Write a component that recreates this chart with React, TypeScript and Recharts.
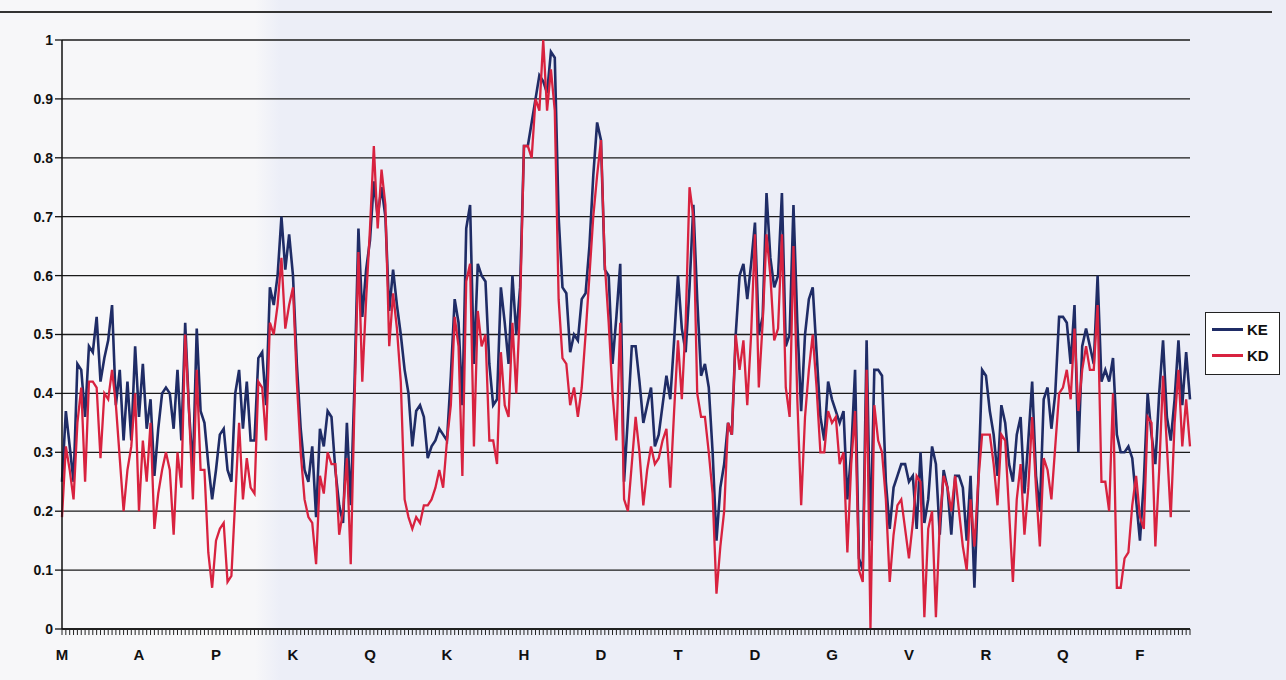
import { CartesianGrid, Line, LineChart, XAxis, YAxis } from "recharts";

// residue labels shown under every 20th position
const residueLabels = ["M", "A", "P", "K", "Q", "K", "H", "D", "T", "D", "G", "V", "R", "Q", "F"];
const labelStep = 20;

const keValues = [
  0.25, 0.37, 0.31, 0.25, 0.45, 0.44, 0.36, 0.48, 0.47, 0.53,
  0.42, 0.46, 0.49, 0.55, 0.38, 0.44, 0.32, 0.42, 0.32, 0.48,
  0.36, 0.45, 0.34, 0.39, 0.26, 0.34, 0.40, 0.41, 0.40, 0.34,
  0.44, 0.32, 0.52, 0.37, 0.27, 0.51, 0.37, 0.35, 0.28, 0.22,
  0.27, 0.33, 0.34, 0.27, 0.25, 0.40, 0.44, 0.34, 0.42, 0.32,
  0.32, 0.46, 0.47, 0.38, 0.58, 0.55, 0.60, 0.70, 0.61, 0.67,
  0.60, 0.45, 0.34, 0.27, 0.25, 0.31, 0.19, 0.34, 0.31, 0.37,
  0.36, 0.27, 0.21, 0.18, 0.35, 0.21, 0.42, 0.68, 0.53, 0.61,
  0.66, 0.76, 0.70, 0.75, 0.70, 0.54, 0.61, 0.55, 0.50, 0.44,
  0.40, 0.31, 0.37, 0.38, 0.36, 0.29, 0.31, 0.32, 0.34, 0.33,
  0.32, 0.43, 0.56, 0.52, 0.38, 0.68, 0.72, 0.45, 0.62, 0.60,
  0.59, 0.45, 0.38, 0.39, 0.58, 0.52, 0.45, 0.60, 0.50, 0.58,
  0.82, 0.82, 0.86, 0.90, 0.94, 0.93, 0.91, 0.98, 0.97, 0.70,
  0.58, 0.57, 0.47, 0.50, 0.49, 0.56, 0.57, 0.65, 0.77, 0.86,
  0.83, 0.61, 0.60, 0.45, 0.53, 0.62, 0.25, 0.36, 0.48, 0.48,
  0.42, 0.35, 0.38, 0.41, 0.31, 0.33, 0.38, 0.43, 0.39, 0.49,
  0.60, 0.51, 0.47, 0.58, 0.72, 0.56, 0.43, 0.45, 0.41, 0.30,
  0.15, 0.24, 0.28, 0.35, 0.33, 0.50, 0.60, 0.62, 0.56, 0.62,
  0.69, 0.50, 0.53, 0.74, 0.63, 0.58, 0.60, 0.74, 0.48, 0.50,
  0.72, 0.52, 0.37, 0.50, 0.56, 0.58, 0.47, 0.36, 0.32, 0.42,
  0.39, 0.37, 0.35, 0.37, 0.22, 0.30, 0.44, 0.12, 0.10, 0.49,
  0.15, 0.44, 0.44, 0.43, 0.25, 0.17, 0.24, 0.26, 0.28, 0.28,
  0.25, 0.26, 0.17, 0.30, 0.18, 0.22, 0.31, 0.28, 0.16, 0.27,
  0.24, 0.16, 0.26, 0.26, 0.24, 0.15, 0.26, 0.07, 0.25, 0.44,
  0.43, 0.37, 0.33, 0.26, 0.38, 0.35, 0.28, 0.25, 0.33, 0.36,
  0.23, 0.32, 0.42, 0.26, 0.20, 0.39, 0.41, 0.34, 0.40, 0.53,
  0.53, 0.52, 0.45, 0.55, 0.30, 0.48, 0.51, 0.48, 0.45, 0.60,
  0.42, 0.44, 0.42, 0.46, 0.33, 0.30, 0.30, 0.31, 0.29, 0.22,
  0.15, 0.25, 0.40, 0.33, 0.28, 0.40, 0.49, 0.36, 0.32, 0.39,
  0.49, 0.38, 0.47, 0.39,
];

const kdValues = [
  0.19, 0.31, 0.27, 0.22, 0.35, 0.41, 0.25, 0.42, 0.42, 0.41,
  0.29, 0.40, 0.39, 0.44, 0.38, 0.29, 0.20, 0.27, 0.31, 0.40,
  0.20, 0.32, 0.25, 0.35, 0.17, 0.23, 0.27, 0.30, 0.27, 0.16,
  0.30, 0.24, 0.50, 0.37, 0.22, 0.44, 0.27, 0.27, 0.13, 0.07,
  0.15, 0.17, 0.18, 0.08, 0.09, 0.22, 0.35, 0.22, 0.29, 0.24,
  0.23, 0.42, 0.41, 0.32, 0.52, 0.50, 0.55, 0.63, 0.51, 0.55,
  0.58, 0.42, 0.30, 0.22, 0.19, 0.18, 0.11, 0.26, 0.23, 0.30,
  0.28, 0.28, 0.16, 0.20, 0.29, 0.11, 0.39, 0.64, 0.42, 0.56,
  0.68, 0.82, 0.68, 0.78, 0.72, 0.48, 0.57, 0.51, 0.42, 0.22,
  0.19, 0.17, 0.19, 0.18, 0.21, 0.21, 0.22, 0.24, 0.27, 0.24,
  0.32, 0.38, 0.53, 0.48, 0.26, 0.59, 0.62, 0.31, 0.54, 0.48,
  0.50, 0.32, 0.32, 0.28, 0.47, 0.38, 0.36, 0.52, 0.40, 0.55,
  0.82, 0.82, 0.80, 0.90, 0.88, 1.00, 0.88, 0.95, 0.88, 0.56,
  0.46, 0.45, 0.38, 0.41, 0.36, 0.41, 0.50, 0.60, 0.70, 0.77,
  0.83, 0.62, 0.52, 0.40, 0.32, 0.52, 0.22, 0.20, 0.28, 0.36,
  0.30, 0.21, 0.27, 0.31, 0.28, 0.29, 0.32, 0.34, 0.24, 0.37,
  0.49, 0.39, 0.52, 0.75, 0.70, 0.40, 0.36, 0.36, 0.30, 0.23,
  0.06, 0.14, 0.20, 0.35, 0.33, 0.50, 0.44, 0.49, 0.38, 0.50,
  0.67, 0.41, 0.52, 0.67, 0.60, 0.49, 0.51, 0.67, 0.41, 0.36,
  0.65, 0.39, 0.21, 0.36, 0.44, 0.50, 0.41, 0.30, 0.30, 0.37,
  0.35, 0.36, 0.28, 0.30, 0.13, 0.28, 0.37, 0.10, 0.08, 0.44,
  0.00, 0.38, 0.32, 0.30, 0.22, 0.08, 0.16, 0.21, 0.22, 0.17,
  0.12, 0.18, 0.26, 0.25, 0.02, 0.17, 0.20, 0.02, 0.18, 0.26,
  0.24, 0.20, 0.26, 0.20, 0.14, 0.10, 0.22, 0.14, 0.25, 0.33,
  0.33, 0.33, 0.28, 0.21, 0.33, 0.32, 0.20, 0.08, 0.22, 0.28,
  0.16, 0.24, 0.36, 0.24, 0.14, 0.29, 0.27, 0.22, 0.31, 0.40,
  0.41, 0.44, 0.39, 0.51, 0.37, 0.44, 0.48, 0.44, 0.44, 0.55,
  0.25, 0.25, 0.20, 0.40, 0.07, 0.07, 0.12, 0.13, 0.21, 0.26,
  0.19, 0.17, 0.36, 0.35, 0.14, 0.27, 0.43, 0.31, 0.19, 0.35,
  0.44, 0.31, 0.39, 0.31,
];

const yTicks = [0, 0.1, 0.2, 0.3, 0.4, 0.5, 0.6, 0.7, 0.8, 0.9, 1];

const keColor = "#1f2c66";
const kdColor = "#d8223f";
const font = "'Liberation Sans', Arial, sans-serif";

const data = keValues.map((ke, i) => ({ pos: i, KE: ke, KD: kdValues[i] }));

function ResidueTick({ x, y, payload }: any) {
  const pos = Number(payload.value);
  if (pos % labelStep !== 0) return null;
  const label = residueLabels[pos / labelStep];
  if (!label) return null;
  return (
    <text x={x} y={y + 23} textAnchor="middle" fill="#111" fontSize={15} fontWeight={700} fontFamily={font}>
      {label}
    </text>
  );
}

function LegendBox() {
  const items = [
    { name: "KE", color: keColor },
    { name: "KD", color: kdColor },
  ];
  return (
    <div
      style={{
        position: "absolute",
        left: 1205,
        top: 312,
        width: 75,
        height: 63,
        boxSizing: "border-box",
        border: "1px solid #222",
        background: "#fff",
        padding: "3px 6px",
      }}
    >
      {items.map((item) => (
        <div key={item.name} style={{ display: "flex", alignItems: "center", gap: 4, height: 26 }}>
          <i style={{ width: 31, height: 3, background: item.color, display: "inline-block" }} />
          <span style={{ fontFamily: font, fontWeight: 700, fontSize: 15, color: "#111" }}>{item.name}</span>
        </div>
      ))}
    </div>
  );
}

export default function App() {
  return (
    <div
      style={{
        position: "absolute",
        left: 0,
        top: 0,
        width: 1286,
        height: 680,
        background: "linear-gradient(to right, #f7f7f9 0px, #f7f7f9 255px, #eceef7 280px, #eceef7 100%)",
      }}
    >
      <div style={{ position: "absolute", left: 0, top: 11, width: 1272, height: 1.5, background: "#333" }} />
      <div style={{ position: "absolute", left: 0, top: 0 }}>
        <LineChart width={1286} height={680} data={data} margin={{ top: 40, right: 96, left: 12, bottom: 11 }}>
          <CartesianGrid vertical={false} stroke="#1a1a1a" strokeWidth={1.3} />
          <XAxis
            dataKey="pos"
            type="category"
            interval={0}
            height={40}
            tick={<ResidueTick />}
            tickLine={{ stroke: "#222", strokeWidth: 1 }}
            tickSize={6}
            axisLine={{ stroke: "#111", strokeWidth: 1.5 }}
          />
          <YAxis
            domain={[0, 1]}
            ticks={yTicks}
            width={50}
            tickSize={7}
            tickLine={{ stroke: "#111", strokeWidth: 1.3 }}
            axisLine={{ stroke: "#111", strokeWidth: 1.5 }}
            tickFormatter={(v: number) => String(Math.round(v * 10) / 10)}
            tick={{ fill: "#111", fontSize: 14, fontWeight: 700, fontFamily: font }}
          />
          <Line
            type="linear"
            dataKey="KE"
            name="KE"
            stroke={keColor}
            strokeWidth={2.6}
            dot={false}
            isAnimationActive={false}
          />
          <Line
            type="linear"
            dataKey="KD"
            name="KD"
            stroke={kdColor}
            strokeWidth={2.3}
            dot={false}
            isAnimationActive={false}
          />
        </LineChart>
      </div>
      <LegendBox />
    </div>
  );
}
